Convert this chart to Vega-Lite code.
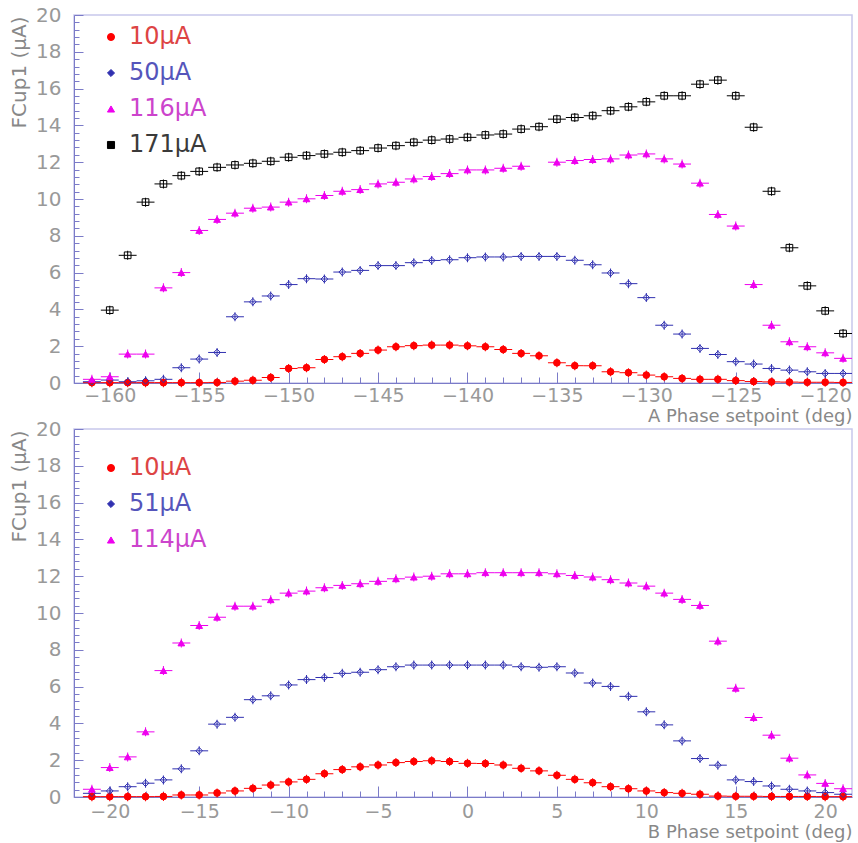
{
  "$schema": "https://vega.github.io/schema/vega-lite/v6.json",
  "background": "white",
  "padding": {"left": 8, "top": 4, "right": 0, "bottom": 0},
  "bounds": "flush",
  "spacing": 46,
  "config": {
    "view": {"stroke": "#c8c8ec", "strokeWidth": 1.5},
    "axis": {
      "grid": false,
      "domainColor": "#7b7bc8",
      "tickColor": "#7b7bc8",
      "tickWidth": 1,
      "labelFont": "DejaVu Sans",
      "labelFontSize": 19,
      "labelColor": "#999999",
      "titleFont": "DejaVu Sans",
      "titleFontSize": 18,
      "titleFontWeight": "normal",
      "titleColor": "#888888",
      "labelOverlap": false,
      "labelFlush": false
    },
    "legend": {
      "title": null,
      "orient": "none",
      "labelFont": "DejaVu Sans",
      "labelFontSize": 24,
      "labelOffset": 6,
      "rowPadding": 12,
      "symbolSize": 50,
      "symbolStrokeWidth": 1,
      "padding": 0
    }
  },
  "datasets": {
    "top": [
      {"x":-161,"y":0.02,"s":"10μA"},{"x":-160,"y":0.02,"s":"10μA"},{"x":-159,"y":0.02,"s":"10μA"},{"x":-158,"y":0.02,"s":"10μA"},{"x":-157,"y":0.02,"s":"10μA"},{"x":-156,"y":0.02,"s":"10μA"},{"x":-155,"y":0.02,"s":"10μA"},{"x":-154,"y":0.03,"s":"10μA"},{"x":-153,"y":0.1,"s":"10μA"},{"x":-152,"y":0.15,"s":"10μA"},{"x":-151,"y":0.3,"s":"10μA"},{"x":-150,"y":0.79,"s":"10μA"},{"x":-149,"y":0.83,"s":"10μA"},{"x":-148,"y":1.28,"s":"10μA"},{"x":-147,"y":1.43,"s":"10μA"},{"x":-146,"y":1.61,"s":"10μA"},{"x":-145,"y":1.79,"s":"10μA"},{"x":-144,"y":1.97,"s":"10μA"},{"x":-143,"y":2.03,"s":"10μA"},{"x":-142,"y":2.06,"s":"10μA"},{"x":-141,"y":2.06,"s":"10μA"},{"x":-140,"y":2.02,"s":"10μA"},{"x":-139,"y":1.97,"s":"10μA"},{"x":-138,"y":1.82,"s":"10μA"},{"x":-137,"y":1.61,"s":"10μA"},{"x":-136,"y":1.48,"s":"10μA"},{"x":-135,"y":1.1,"s":"10μA"},{"x":-134,"y":0.94,"s":"10μA"},{"x":-133,"y":0.94,"s":"10μA"},{"x":-132,"y":0.61,"s":"10μA"},{"x":-131,"y":0.56,"s":"10μA"},{"x":-130,"y":0.43,"s":"10μA"},{"x":-129,"y":0.34,"s":"10μA"},{"x":-128,"y":0.25,"s":"10μA"},{"x":-127,"y":0.2,"s":"10μA"},{"x":-126,"y":0.2,"s":"10μA"},{"x":-125,"y":0.13,"s":"10μA"},{"x":-124,"y":0.08,"s":"10μA"},{"x":-123,"y":0.06,"s":"10μA"},{"x":-122,"y":0.05,"s":"10μA"},{"x":-121,"y":0.04,"s":"10μA"},{"x":-120,"y":0.04,"s":"10μA"},{"x":-119,"y":0.03,"s":"10μA"},
      {"x":-161,"y":0.07,"s":"50μA"},{"x":-160,"y":0.16,"s":"50μA"},{"x":-159,"y":0.07,"s":"50μA"},{"x":-158,"y":0.12,"s":"50μA"},{"x":-157,"y":0.2,"s":"50μA"},{"x":-156,"y":0.83,"s":"50μA"},{"x":-155,"y":1.3,"s":"50μA"},{"x":-154,"y":1.66,"s":"50μA"},{"x":-153,"y":3.6,"s":"50μA"},{"x":-152,"y":4.41,"s":"50μA"},{"x":-151,"y":4.73,"s":"50μA"},{"x":-150,"y":5.35,"s":"50μA"},{"x":-149,"y":5.67,"s":"50μA"},{"x":-148,"y":5.65,"s":"50μA"},{"x":-147,"y":6.03,"s":"50μA"},{"x":-146,"y":6.12,"s":"50μA"},{"x":-145,"y":6.38,"s":"50μA"},{"x":-144,"y":6.38,"s":"50μA"},{"x":-143,"y":6.54,"s":"50μA"},{"x":-142,"y":6.66,"s":"50μA"},{"x":-141,"y":6.7,"s":"50μA"},{"x":-140,"y":6.81,"s":"50μA"},{"x":-139,"y":6.85,"s":"50μA"},{"x":-138,"y":6.85,"s":"50μA"},{"x":-137,"y":6.88,"s":"50μA"},{"x":-136,"y":6.88,"s":"50μA"},{"x":-135,"y":6.88,"s":"50μA"},{"x":-134,"y":6.67,"s":"50μA"},{"x":-133,"y":6.43,"s":"50μA"},{"x":-132,"y":5.98,"s":"50μA"},{"x":-131,"y":5.4,"s":"50μA"},{"x":-130,"y":4.64,"s":"50μA"},{"x":-129,"y":3.14,"s":"50μA"},{"x":-128,"y":2.66,"s":"50μA"},{"x":-127,"y":1.88,"s":"50μA"},{"x":-126,"y":1.55,"s":"50μA"},{"x":-125,"y":1.16,"s":"50μA"},{"x":-124,"y":1.03,"s":"50μA"},{"x":-123,"y":0.79,"s":"50μA"},{"x":-122,"y":0.7,"s":"50μA"},{"x":-121,"y":0.61,"s":"50μA"},{"x":-120,"y":0.52,"s":"50μA"},{"x":-119,"y":0.52,"s":"50μA"},
      {"x":-161,"y":0.2,"s":"116μA"},{"x":-160,"y":0.34,"s":"116μA"},{"x":-159,"y":1.57,"s":"116μA"},{"x":-158,"y":1.57,"s":"116μA"},{"x":-157,"y":5.17,"s":"116μA"},{"x":-156,"y":6.0,"s":"116μA"},{"x":-155,"y":8.29,"s":"116μA"},{"x":-154,"y":8.89,"s":"116μA"},{"x":-153,"y":9.23,"s":"116μA"},{"x":-152,"y":9.5,"s":"116μA"},{"x":-151,"y":9.56,"s":"116μA"},{"x":-150,"y":9.83,"s":"116μA"},{"x":-149,"y":10.01,"s":"116μA"},{"x":-148,"y":10.19,"s":"116μA"},{"x":-147,"y":10.42,"s":"116μA"},{"x":-146,"y":10.51,"s":"116μA"},{"x":-145,"y":10.82,"s":"116μA"},{"x":-144,"y":10.91,"s":"116μA"},{"x":-143,"y":11.09,"s":"116μA"},{"x":-142,"y":11.22,"s":"116μA"},{"x":-141,"y":11.38,"s":"116μA"},{"x":-140,"y":11.58,"s":"116μA"},{"x":-139,"y":11.58,"s":"116μA"},{"x":-138,"y":11.67,"s":"116μA"},{"x":-137,"y":11.78,"s":"116μA"},{"x":-135,"y":12.0,"s":"116μA"},{"x":-134,"y":12.09,"s":"116μA"},{"x":-133,"y":12.14,"s":"116μA"},{"x":-132,"y":12.18,"s":"116μA"},{"x":-131,"y":12.39,"s":"116μA"},{"x":-130,"y":12.45,"s":"116μA"},{"x":-129,"y":12.18,"s":"116μA"},{"x":-128,"y":11.9,"s":"116μA"},{"x":-127,"y":10.86,"s":"116μA"},{"x":-126,"y":9.16,"s":"116μA"},{"x":-125,"y":8.53,"s":"116μA"},{"x":-124,"y":5.35,"s":"116μA"},{"x":-123,"y":3.14,"s":"116μA"},{"x":-122,"y":2.24,"s":"116μA"},{"x":-121,"y":1.97,"s":"116μA"},{"x":-120,"y":1.64,"s":"116μA"},{"x":-119,"y":1.34,"s":"116μA"},
      {"x":-160,"y":3.96,"s":"171μA"},{"x":-159,"y":6.94,"s":"171μA"},{"x":-158,"y":9.83,"s":"171μA"},{"x":-157,"y":10.82,"s":"171μA"},{"x":-156,"y":11.27,"s":"171μA"},{"x":-155,"y":11.5,"s":"171μA"},{"x":-154,"y":11.72,"s":"171μA"},{"x":-153,"y":11.85,"s":"171μA"},{"x":-152,"y":11.94,"s":"171μA"},{"x":-151,"y":12.05,"s":"171μA"},{"x":-150,"y":12.27,"s":"171μA"},{"x":-149,"y":12.36,"s":"171μA"},{"x":-148,"y":12.45,"s":"171μA"},{"x":-147,"y":12.54,"s":"171μA"},{"x":-146,"y":12.63,"s":"171μA"},{"x":-145,"y":12.77,"s":"171μA"},{"x":-144,"y":12.9,"s":"171μA"},{"x":-143,"y":13.08,"s":"171μA"},{"x":-142,"y":13.2,"s":"171μA"},{"x":-141,"y":13.26,"s":"171μA"},{"x":-140,"y":13.35,"s":"171μA"},{"x":-139,"y":13.48,"s":"171μA"},{"x":-138,"y":13.53,"s":"171μA"},{"x":-137,"y":13.8,"s":"171μA"},{"x":-136,"y":13.93,"s":"171μA"},{"x":-135,"y":14.34,"s":"171μA"},{"x":-134,"y":14.43,"s":"171μA"},{"x":-133,"y":14.53,"s":"171μA"},{"x":-132,"y":14.8,"s":"171μA"},{"x":-131,"y":15.01,"s":"171μA"},{"x":-130,"y":15.28,"s":"171μA"},{"x":-129,"y":15.61,"s":"171μA"},{"x":-128,"y":15.61,"s":"171μA"},{"x":-127,"y":16.24,"s":"171μA"},{"x":-126,"y":16.46,"s":"171μA"},{"x":-125,"y":15.61,"s":"171μA"},{"x":-124,"y":13.9,"s":"171μA"},{"x":-123,"y":10.42,"s":"171μA"},{"x":-122,"y":7.35,"s":"171μA"},{"x":-121,"y":5.28,"s":"171μA"},{"x":-120,"y":3.92,"s":"171μA"},{"x":-119,"y":2.69,"s":"171μA"}
    ],
    "bottom": [
      {"x":-21,"y":0.02,"s":"10μA"},{"x":-20,"y":0.02,"s":"10μA"},{"x":-19,"y":0.02,"s":"10μA"},{"x":-18,"y":0.02,"s":"10μA"},{"x":-17,"y":0.03,"s":"10μA"},{"x":-16,"y":0.11,"s":"10μA"},{"x":-15,"y":0.11,"s":"10μA"},{"x":-14,"y":0.22,"s":"10μA"},{"x":-13,"y":0.33,"s":"10μA"},{"x":-12,"y":0.47,"s":"10μA"},{"x":-11,"y":0.65,"s":"10μA"},{"x":-10,"y":0.82,"s":"10μA"},{"x":-9,"y":0.96,"s":"10μA"},{"x":-8,"y":1.27,"s":"10μA"},{"x":-7,"y":1.49,"s":"10μA"},{"x":-6,"y":1.64,"s":"10μA"},{"x":-5,"y":1.74,"s":"10μA"},{"x":-4,"y":1.87,"s":"10μA"},{"x":-3,"y":1.93,"s":"10μA"},{"x":-2,"y":1.97,"s":"10μA"},{"x":-1,"y":1.93,"s":"10μA"},{"x":0,"y":1.83,"s":"10μA"},{"x":1,"y":1.82,"s":"10μA"},{"x":2,"y":1.74,"s":"10μA"},{"x":3,"y":1.56,"s":"10μA"},{"x":4,"y":1.42,"s":"10μA"},{"x":5,"y":1.18,"s":"10μA"},{"x":6,"y":0.96,"s":"10μA"},{"x":7,"y":0.78,"s":"10μA"},{"x":8,"y":0.56,"s":"10μA"},{"x":9,"y":0.45,"s":"10μA"},{"x":10,"y":0.33,"s":"10μA"},{"x":11,"y":0.24,"s":"10μA"},{"x":12,"y":0.2,"s":"10μA"},{"x":13,"y":0.15,"s":"10μA"},{"x":14,"y":0.05,"s":"10μA"},{"x":15,"y":0.04,"s":"10μA"},{"x":16,"y":0.04,"s":"10μA"},{"x":17,"y":0.03,"s":"10μA"},{"x":18,"y":0.03,"s":"10μA"},{"x":19,"y":0.03,"s":"10μA"},{"x":20,"y":0.02,"s":"10μA"},{"x":21,"y":0.02,"s":"10μA"},
      {"x":-21,"y":0.2,"s":"51μA"},{"x":-20,"y":0.33,"s":"51μA"},{"x":-19,"y":0.56,"s":"51μA"},{"x":-18,"y":0.75,"s":"51μA"},{"x":-17,"y":0.93,"s":"51μA"},{"x":-16,"y":1.53,"s":"51μA"},{"x":-15,"y":2.51,"s":"51μA"},{"x":-14,"y":3.96,"s":"51μA"},{"x":-13,"y":4.33,"s":"51μA"},{"x":-12,"y":5.29,"s":"51μA"},{"x":-11,"y":5.5,"s":"51μA"},{"x":-10,"y":6.09,"s":"51μA"},{"x":-9,"y":6.38,"s":"51μA"},{"x":-8,"y":6.5,"s":"51μA"},{"x":-7,"y":6.72,"s":"51μA"},{"x":-6,"y":6.78,"s":"51μA"},{"x":-5,"y":6.92,"s":"51μA"},{"x":-4,"y":7.08,"s":"51μA"},{"x":-3,"y":7.17,"s":"51μA"},{"x":-2,"y":7.17,"s":"51μA"},{"x":-1,"y":7.17,"s":"51μA"},{"x":0,"y":7.17,"s":"51μA"},{"x":1,"y":7.17,"s":"51μA"},{"x":2,"y":7.17,"s":"51μA"},{"x":3,"y":7.08,"s":"51μA"},{"x":4,"y":7.05,"s":"51μA"},{"x":5,"y":7.08,"s":"51μA"},{"x":6,"y":6.74,"s":"51μA"},{"x":7,"y":6.2,"s":"51μA"},{"x":8,"y":6.01,"s":"51μA"},{"x":9,"y":5.47,"s":"51μA"},{"x":10,"y":4.63,"s":"51μA"},{"x":11,"y":3.92,"s":"51μA"},{"x":12,"y":3.05,"s":"51μA"},{"x":13,"y":2.09,"s":"51μA"},{"x":14,"y":1.73,"s":"51μA"},{"x":15,"y":0.93,"s":"51μA"},{"x":16,"y":0.84,"s":"51μA"},{"x":17,"y":0.6,"s":"51μA"},{"x":18,"y":0.42,"s":"51μA"},{"x":19,"y":0.33,"s":"51μA"},{"x":20,"y":0.24,"s":"51μA"},{"x":21,"y":0.15,"s":"51μA"},
      {"x":-21,"y":0.42,"s":"114μA"},{"x":-20,"y":1.6,"s":"114μA"},{"x":-19,"y":2.18,"s":"114μA"},{"x":-18,"y":3.54,"s":"114μA"},{"x":-17,"y":6.87,"s":"114μA"},{"x":-16,"y":8.37,"s":"114μA"},{"x":-15,"y":9.32,"s":"114μA"},{"x":-14,"y":9.77,"s":"114μA"},{"x":-13,"y":10.37,"s":"114μA"},{"x":-12,"y":10.37,"s":"114μA"},{"x":-11,"y":10.72,"s":"114μA"},{"x":-10,"y":11.08,"s":"114μA"},{"x":-9,"y":11.19,"s":"114μA"},{"x":-8,"y":11.37,"s":"114μA"},{"x":-7,"y":11.5,"s":"114μA"},{"x":-6,"y":11.59,"s":"114μA"},{"x":-5,"y":11.72,"s":"114μA"},{"x":-4,"y":11.86,"s":"114μA"},{"x":-3,"y":11.95,"s":"114μA"},{"x":-2,"y":12.0,"s":"114μA"},{"x":-1,"y":12.13,"s":"114μA"},{"x":0,"y":12.13,"s":"114μA"},{"x":1,"y":12.19,"s":"114μA"},{"x":2,"y":12.19,"s":"114μA"},{"x":3,"y":12.19,"s":"114μA"},{"x":4,"y":12.19,"s":"114μA"},{"x":5,"y":12.13,"s":"114μA"},{"x":6,"y":12.04,"s":"114μA"},{"x":7,"y":11.95,"s":"114μA"},{"x":8,"y":11.81,"s":"114μA"},{"x":9,"y":11.63,"s":"114μA"},{"x":10,"y":11.46,"s":"114μA"},{"x":11,"y":11.08,"s":"114μA"},{"x":12,"y":10.74,"s":"114μA"},{"x":13,"y":10.41,"s":"114μA"},{"x":14,"y":8.47,"s":"114μA"},{"x":15,"y":5.91,"s":"114μA"},{"x":16,"y":4.32,"s":"114μA"},{"x":17,"y":3.36,"s":"114μA"},{"x":18,"y":2.11,"s":"114μA"},{"x":19,"y":1.2,"s":"114μA"},{"x":20,"y":0.74,"s":"114μA"},{"x":21,"y":0.45,"s":"114μA"}
    ]
  },
  "resolve": {"scale": {"x": "independent", "y": "independent", "color": "independent", "fill": "independent", "shape": "independent"}},
  "vconcat": [
    {
      "width": 778, "height": 368,
      "data": {"name": "top"},
      "encoding": {
        "x": {"field": "x", "type": "quantitative",
          "scale": {"domain": [-162, -118.5], "nice": false, "zero": false},
          "axis": {"title": "A Phase setpoint (deg)",
            "values": [-162,-161,-160,-159,-158,-157,-156,-155,-154,-153,-152,-151,-150,-149,-148,-147,-146,-145,-144,-143,-142,-141,-140,-139,-138,-137,-136,-135,-134,-133,-132,-131,-130,-129,-128,-127,-126,-125,-124,-123,-122,-121,-120,-119],
            "labelExpr": "datum.value % 5 === 0 ? format(datum.value, 'd') : ''",
            "tickSize": {"condition": {"test": "datum.value % 5 === 0", "value": -11}, "value": -6},
            "labelPadding": 14,
            "titleX": 778, "titleY": 33, "titleAlign": "right", "titleBaseline": "middle", "titleAnchor": "end"}},
        "y": {"field": "y", "type": "quantitative",
          "scale": {"domain": [0, 20], "nice": false},
          "axis": {"title": "FCup1 (μA)",
            "values": [0,0.4,0.8,1.2,1.6,2,2.4,2.8,3.2,3.6,4,4.4,4.8,5.2,5.6,6,6.4,6.8,7.2,7.6,8,8.4,8.8,9.2,9.6,10,10.4,10.8,11.2,11.6,12,12.4,12.8,13.2,13.6,14,14.4,14.8,15.2,15.6,16,16.4,16.8,17.2,17.6,18,18.4,18.8,19.2,19.6,20],
            "labelExpr": "datum.value % 2 === 0 ? format(datum.value, 'd') : ''",
            "tickSize": {"condition": {"test": "datum.value % 2 === 0", "value": -9}, "value": -5},
            "labelPadding": 22, "labelFontSize": 20,
            "titleFontSize": 20,
            "titleX": -55, "titleY": 1, "titleAngle": -90, "titleAlign": "right", "titleBaseline": "middle", "titleAnchor": "end"}},
        "color": {"field": "s", "type": "nominal",
          "scale": {"domain": ["10μA","50μA","116μA","171μA"], "range": ["#ff0000","#3030b0","#ee00ee","#000000"]},
          "legend": {"legendX": 25, "legendY": 10,
            "labelColor": {"expr": "datum.value === '10μA' ? '#dd4444' : datum.value === '116μA' ? '#cc44cc' : datum.value === '171μA' ? '#3a3a3a' : '#5555bb'"}}}
      },
      "layer": [
        {"mark": {"type": "tick", "orient": "horizontal", "size": 17.9, "thickness": 1, "opacity": 1}},
        {"mark": {"type": "tick", "orient": "vertical", "size": 9, "thickness": 1, "opacity": 1}},
        {"mark": {"type": "point", "opacity": 1, "strokeWidth": 1, "size": 45, "filled": false},
         "encoding": {
           "fill": {"field": "s", "type": "nominal",
             "scale": {"domain": ["10μA","50μA","116μA","171μA"], "range": ["#ff0000","transparent","#ee00ee","transparent"]},
             "legend": {"legendX": 25, "legendY": 10,
               "labelColor": {"expr": "datum.value === '10μA' ? '#dd4444' : datum.value === '116μA' ? '#cc44cc' : datum.value === '171μA' ? '#3a3a3a' : '#5555bb'"}}},
           "shape": {"field": "s", "type": "nominal",
             "scale": {"domain": ["10μA","50μA","116μA","171μA"], "range": ["circle","diamond","triangle-up","square"]},
             "legend": {"legendX": 25, "legendY": 10,
               "labelColor": {"expr": "datum.value === '10μA' ? '#dd4444' : datum.value === '116μA' ? '#cc44cc' : datum.value === '171μA' ? '#3a3a3a' : '#5555bb'"}}}
         }}
      ]
    },
    {
      "width": 778, "height": 368,
      "data": {"name": "bottom"},
      "encoding": {
        "x": {"field": "x", "type": "quantitative",
          "scale": {"domain": [-22, 21.5], "nice": false, "zero": false},
          "axis": {"title": "B Phase setpoint (deg)",
            "values": [-22,-21,-20,-19,-18,-17,-16,-15,-14,-13,-12,-11,-10,-9,-8,-7,-6,-5,-4,-3,-2,-1,0,1,2,3,4,5,6,7,8,9,10,11,12,13,14,15,16,17,18,19,20,21],
            "labelExpr": "datum.value % 5 === 0 ? format(datum.value, 'd') : ''",
            "tickSize": {"condition": {"test": "datum.value % 5 === 0", "value": -11}, "value": -6},
            "labelPadding": 16,
            "titleX": 778, "titleY": 35, "titleAlign": "right", "titleBaseline": "middle", "titleAnchor": "end"}},
        "y": {"field": "y", "type": "quantitative",
          "scale": {"domain": [0, 20], "nice": false},
          "axis": {"title": "FCup1 (μA)",
            "values": [0,0.4,0.8,1.2,1.6,2,2.4,2.8,3.2,3.6,4,4.4,4.8,5.2,5.6,6,6.4,6.8,7.2,7.6,8,8.4,8.8,9.2,9.6,10,10.4,10.8,11.2,11.6,12,12.4,12.8,13.2,13.6,14,14.4,14.8,15.2,15.6,16,16.4,16.8,17.2,17.6,18,18.4,18.8,19.2,19.6,20],
            "labelExpr": "datum.value % 2 === 0 ? format(datum.value, 'd') : ''",
            "tickSize": {"condition": {"test": "datum.value % 2 === 0", "value": -9}, "value": -5},
            "labelPadding": 22, "labelFontSize": 20,
            "titleFontSize": 20,
            "titleX": -55, "titleY": 1, "titleAngle": -90, "titleAlign": "right", "titleBaseline": "middle", "titleAnchor": "end"}},
        "color": {"field": "s", "type": "nominal",
          "scale": {"domain": ["10μA","51μA","114μA"], "range": ["#ff0000","#3030b0","#ee00ee"]},
          "legend": {"legendX": 25, "legendY": 27,
            "labelColor": {"expr": "datum.value === '10μA' ? '#dd4444' : datum.value === '114μA' ? '#cc44cc' : '#5555bb'"}}}
      },
      "layer": [
        {"mark": {"type": "tick", "orient": "horizontal", "size": 17.9, "thickness": 1, "opacity": 1}},
        {"mark": {"type": "tick", "orient": "vertical", "size": 9, "thickness": 1, "opacity": 1}},
        {"mark": {"type": "point", "opacity": 1, "strokeWidth": 1, "size": 45, "filled": false},
         "encoding": {
           "fill": {"field": "s", "type": "nominal",
             "scale": {"domain": ["10μA","51μA","114μA"], "range": ["#ff0000","transparent","#ee00ee"]},
             "legend": {"legendX": 25, "legendY": 27,
               "labelColor": {"expr": "datum.value === '10μA' ? '#dd4444' : datum.value === '114μA' ? '#cc44cc' : '#5555bb'"}}},
           "shape": {"field": "s", "type": "nominal",
             "scale": {"domain": ["10μA","51μA","114μA"], "range": ["circle","diamond","triangle-up"]},
             "legend": {"legendX": 25, "legendY": 27,
               "labelColor": {"expr": "datum.value === '10μA' ? '#dd4444' : datum.value === '114μA' ? '#cc44cc' : '#5555bb'"}}}
         }}
      ]
    }
  ]
}
